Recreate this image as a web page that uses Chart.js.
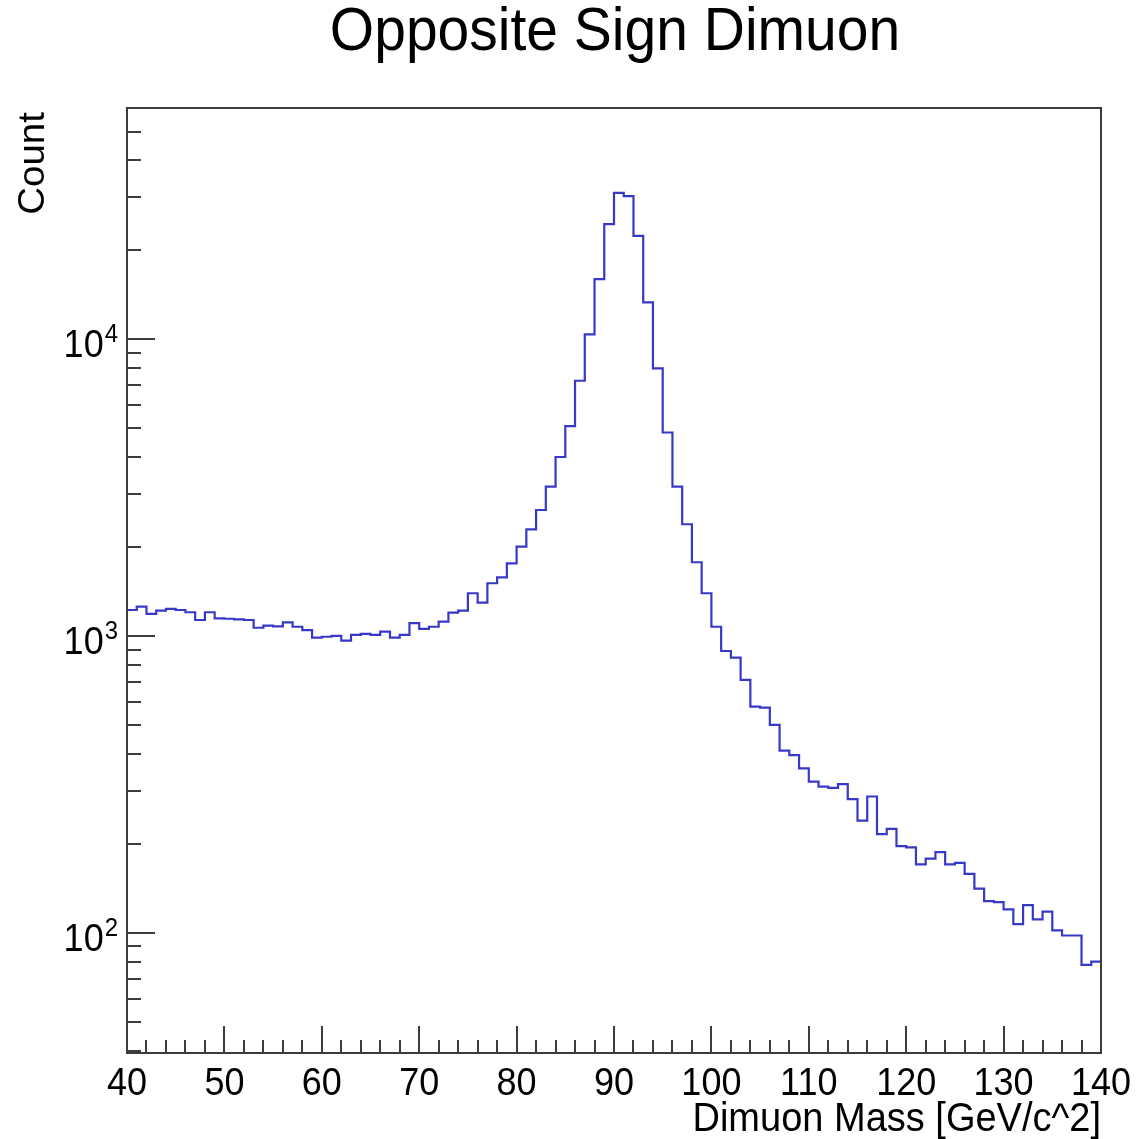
<!DOCTYPE html>
<html>
<head>
<meta charset="utf-8">
<script src="https://cdn.jsdelivr.net/npm/chart.js@4.4.1/dist/chart.umd.min.js"></script>
<style>
html,body{margin:0;padding:0;background:#ffffff;}
#wrap{width:1136px;height:1139px;position:relative;}
</style>
</head>
<body>
<div id="wrap"><canvas id="c" width="1136" height="1139"></canvas></div>
<script>
// ---- chart text ----
const chartTitle = 'Opposite Sign Dimuon';
const xAxisTitle = 'Dimuon Mass [GeV/c^2]';
const yAxisTitle = 'Count';

// ---- histogram binning (1 GeV bins from 40 to 140) ----
const xMin = 40;
const xMax = 140;
const binWidth = 1;

// ---- bin contents ----
const counts = [
  1223, 1256, 1186, 1217, 1233, 1223, 1202, 1132, 1202, 1147,
  1143, 1138, 1132, 1066, 1083, 1078, 1112, 1074, 1047,  987,
   994, 1000,  964, 1008, 1016, 1008, 1034,  987, 1008, 1104,
  1056, 1074, 1117, 1198, 1217, 1393, 1295, 1505, 1576, 1757,
  1999, 2287, 2656, 3183, 4006, 5094, 7237, 10370, 15922, 24395,
  31090, 30300, 22270, 13290, 7966, 4844, 3183, 2378, 1771, 1393,
  1074,  890,  845,  711,  578,  574,  502,  411,  397,  358,
   323,  311,  308,  317,  282,  239,  288,  215,  224,  196,
   194,  170,  178,  187,  170,  172,  158,  141,  128,  127,
   120,  107,  124,  111,  118,  102,   98,   98,   78,   80
];

// ---- axis ticks ----
const xMajorTicks = [40, 50, 60, 70, 80, 90, 100, 110, 120, 130, 140];
const xMinorTicks = [42,44,46,48,52,54,56,58,62,64,66,68,72,74,76,78,82,84,86,88,92,94,96,98,
                     102,104,106,108,112,114,116,118,122,124,126,128,132,134,136,138];
const yDecadeExponents = [2, 3, 4];
const yMinorMultipliers = [2, 3, 4, 5, 6, 7, 8, 9];
const yMin = 39.4;
const yMax = 60000;

// ---- build step-histogram points from bin edges ----
const points = counts.map((c, i) => ({ x: xMin + i * binWidth, y: c }));
points.push({ x: xMax, y: counts[counts.length - 1] });

const FONT = '"Liberation Sans", Arial, Helvetica, sans-serif';
const FRAME_COLOR = '#3c3c3c';
const STRETCH = 1.07;

function drawText(ctx, text, x, y, size, align, rotate) {
  ctx.save();
  ctx.translate(x, y);
  ctx.scale(1, STRETCH);
  if (rotate) ctx.rotate(-Math.PI / 2);
  ctx.font = size + 'px ' + FONT;
  ctx.textAlign = align;
  ctx.textBaseline = 'alphabetic';
  ctx.fillText(text, 0, 0);
  ctx.restore();
}

const rootAxesPlugin = {
  id: 'rootAxes',
  afterDraw(chart) {
    const ctx = chart.ctx;
    const ca = chart.chartArea;
    const xs = chart.scales.x;
    const ys = chart.scales.y;
    ctx.save();

    // frame
    ctx.strokeStyle = FRAME_COLOR;
    ctx.lineWidth = 2;
    ctx.strokeRect(ca.left, ca.top, ca.right - ca.left, ca.bottom - ca.top);

    // x ticks (inside, from bottom)
    ctx.beginPath();
    xMajorTicks.forEach(v => {
      const px = Math.round(xs.getPixelForValue(v));
      ctx.moveTo(px, ca.bottom);
      ctx.lineTo(px, ca.bottom - 27);
    });
    xMinorTicks.forEach(v => {
      const px = Math.round(xs.getPixelForValue(v));
      ctx.moveTo(px, ca.bottom);
      ctx.lineTo(px, ca.bottom - 13);
    });
    // y ticks (inside, from left)
    yDecadeExponents.forEach(e => {
      const py = Math.round(ys.getPixelForValue(Math.pow(10, e)));
      ctx.moveTo(ca.left, py);
      ctx.lineTo(ca.left + 28, py);
    });
    [1, 2, 3, 4].forEach(e => {
      yMinorMultipliers.forEach(m => {
        const v = m * Math.pow(10, e);
        if (v < yMin || v > yMax) return;
        const py = Math.round(ys.getPixelForValue(v));
        ctx.moveTo(ca.left, py);
        ctx.lineTo(ca.left + 14, py);
      });
    });
    ctx.stroke();

    ctx.fillStyle = '#000000';

    // x tick labels
    xMajorTicks.forEach(v => {
      drawText(ctx, String(v), xs.getPixelForValue(v), ca.bottom + 42, 36, 'center');
    });

    // y tick labels 10^n
    yDecadeExponents.forEach(e => {
      const py = ys.getPixelForValue(Math.pow(10, e));
      ctx.font = '24px ' + FONT;
      const supW = ctx.measureText(String(e)).width;
      drawText(ctx, String(e), 118, py + 3, 24, 'right');
      drawText(ctx, '10', 118 - supW - 1, py + 18, 36, 'right');
    });

    // x axis title (right aligned)
    drawText(ctx, xAxisTitle, ca.right, 1131, 38, 'right');

    // y axis title (rotated, aligned to top)
    drawText(ctx, yAxisTitle, 44, 112, 36, 'right', true);

    // chart title
    drawText(ctx, chartTitle, (ca.left + ca.right) / 2 + 1, 50, 57, 'center');

    ctx.restore();
  }
};

new Chart(document.getElementById('c'), {
  type: 'line',
  data: {
    datasets: [{
      data: points,
      stepped: 'before',
      borderColor: '#3838c8',
      borderWidth: 2.2,
      pointRadius: 0,
      fill: false,
      tension: 0
    }]
  },
  options: {
    responsive: false,
    animation: false,
    devicePixelRatio: 1,
    layout: { padding: { left: 127, right: 35, top: 108, bottom: 86 } },
    scales: {
      x: { type: 'linear', min: xMin, max: xMax, display: false },
      y: { type: 'logarithmic', min: yMin, max: yMax, display: false }
    },
    plugins: {
      legend: { display: false },
      tooltip: { enabled: false }
    }
  },
  plugins: [rootAxesPlugin]
});
</script>
</body>
</html>
